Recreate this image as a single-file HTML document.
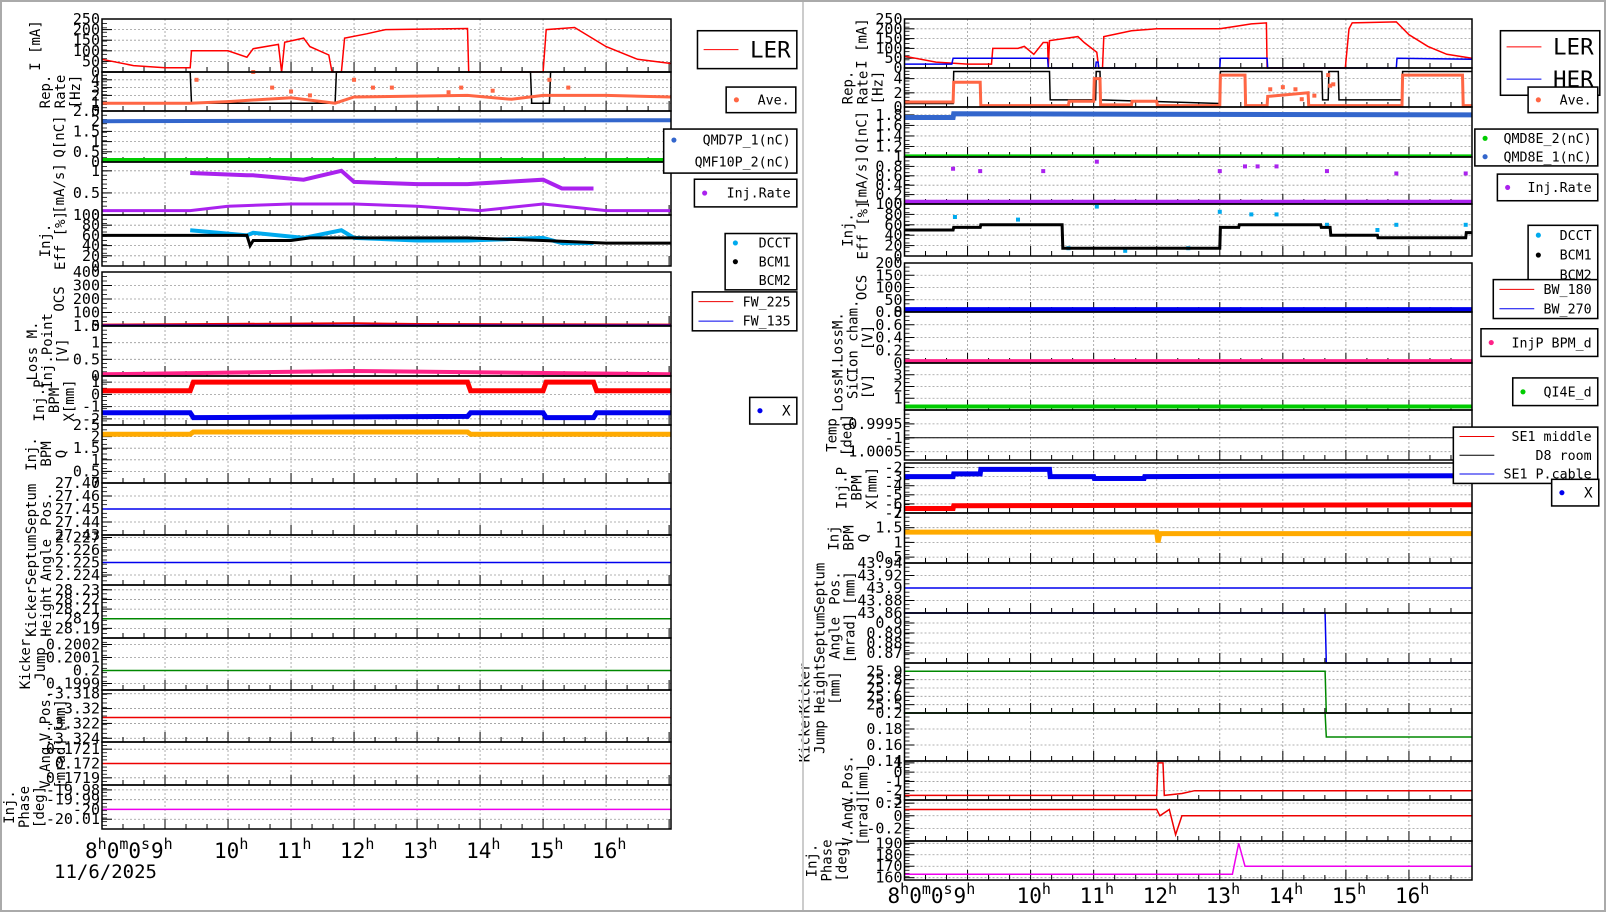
<!DOCTYPE html>
<html><head><meta charset="utf-8">
<style>
body{margin:0;background:#fff;width:1606px;height:912px;overflow:hidden;font-family:"DejaVu Sans Mono","Liberation Mono",monospace}
svg{position:absolute;left:0;top:0}
</style></head>
<body>
<svg id="c" width="1606" height="912" xmlns="http://www.w3.org/2000/svg"></svg>
<script>
// ---------- data (hours, values) ----------
const hourTicks=[8,9,10,11,12,13,14,15,16];
const dateLabel="11/6/2025";
// Left (LER)
const lerCurrent=[[8,60],[8.5,30],[9,20],[9.4,20],[9.42,100],[10,100],[10.3,70],[10.4,110],[10.8,130],[10.85,0],[10.9,140],[11.2,160],[11.3,120],[11.6,80],[11.65,0],[11.8,0],[11.85,160],[12.2,180],[12.5,200],[13.8,205],[13.82,0],[15.0,0],[15.05,200],[15.5,210],[16,120],[16.5,60],[17.03,40]];
const lerRepAve=[[8,1],[9.4,1],[10,1.2],[11,1.7],[11.7,1],[12,1.8],[13.8,2],[14.5,1.5],[15,2],[16,2],[17.03,1.8]];
const lerRepDots=[[9.5,4],[10.4,5],[10.7,3],[11,2.5],[11.3,2],[12,4],[12.3,3],[12.6,3],[13.5,2.4],[13.7,3],[14.2,2.6],[15.1,4],[15.4,3]];
const lerRepSet=[[8,5],[9.4,5],[9.42,1],[11.7,1],[11.72,5],[14.8,5],[14.82,1],[15.1,1],[15.12,5],[17.03,5]];
const lerQ=[[8,2.0],[17.03,2.05]];
const lerQ2=[[8,0.1],[17.03,0.1]];
const lerInjRate=[[9.4,0.95],[10.3,0.9],[10.4,0.9],[11.2,0.8],[11.8,1],[12,0.75],[13,0.7],[13.8,0.7],[15,0.8],[15.3,0.6],[15.8,0.6]];
const lerInjLow=[[8,0.1],[9.4,0.1],[10,0.2],[11,0.25],[12,0.25],[13,0.2],[14,0.1],[15,0.25],[16,0.1],[17.03,0.1]];
const lerEffDcct=[[9.4,70],[10.3,60],[10.4,65],[11.2,55],[11.8,70],[12,55],[13,50],[13.8,50],[15,55],[15.3,45],[15.8,45]];
const lerEffBcm=[[8,60],[10.3,60],[10.35,40],[10.4,50],[11,50],[11.3,55],[13.8,55],[15,50],[16,45],[17.03,45]];
const lerOcsR=[[8,10],[12,20],[13,15],[17.03,10]];
const lerOcsB=[[8,5],[17.03,5]];
const lerLoss=[[8,0.05],[12,0.15],[17.03,0.05]];
const lerBpmY=[[8,0.3],[9.4,0.3],[9.45,1],[13.8,1],[13.85,0.3],[15,0.3],[15.05,1],[15.8,1],[15.85,0.3],[17.03,0.3]];
const lerBpmX=[[8,-1.5],[9.4,-1.5],[9.45,-1.9],[13.8,-1.8],[13.85,-1.5],[15,-1.5],[15.05,-1.9],[15.8,-1.9],[15.85,-1.5],[17.03,-1.5]];
const lerBpmQ=[[8,2.1],[9.4,2.1],[9.45,2.2],[13.8,2.2],[13.85,2.1],[17.03,2.1]];
const lerSepPos=[[8,27.45],[17.03,27.45]];
const lerSepAng=[[8,2.225],[17.03,2.225]];
const lerKH=[[8,28.2],[17.03,28.2]];
const lerKJ=[[8,0.2],[17.03,0.2]];
const lerVPos=[[8,-3.3212],[17.03,-3.3212]];
const lerVAng=[[8,0.172],[17.03,0.172]];
const lerPhase=[[8,-20],[17.03,-20]];
// Right (HER)
const herCurrentL=[[8,60],[8.5,30],[9,20],[9.38,20],[9.4,100],[9.8,100],[9.9,110],[10.05,70],[10.2,130],[10.27,130],[10.28,0],[10.3,140],[10.75,160],[10.85,130],[11.05,80],[11.08,0],[11.14,0],[11.16,160],[11.6,190],[12,200],[13,200],[13.3,215],[13.5,225],[13.74,230],[13.75,0],[14.99,0],[15.05,200],[15.1,230],[15.8,235],[16,170],[16.3,110],[16.6,70],[17,50]];
const herCurrentH=[[8,20],[8.75,20],[8.77,50],[10.27,50],[10.28,0],[11.03,0],[11.04,30],[11.07,30],[11.08,0],[13,0],[13.01,50],[13.75,50],[13.76,0],[15.8,0],[15.81,50],[17,45]];
const herRepSet=[[8,0.5],[8.77,0.5],[8.78,5],[10.3,5],[10.31,1],[11.03,1],[11.04,5],[11.1,5],[11.11,1],[13,0.5],[13.01,5],[14.62,5],[14.63,1],[14.72,1],[14.73,5],[14.88,5],[14.89,1],[15.89,1],[15.9,5],[17,5]];
const herRepAve=[[8,0.7],[8.77,0.7],[8.78,3.5],[9.2,3.5],[9.21,0.2],[10.6,0.2],[10.61,0.8],[11.0,0.8],[11.01,4],[11.1,4],[11.11,0.3],[11.6,0.3],[11.61,0.8],[12,0.8],[12.01,0.2],[13,0.2],[13.01,4.5],[13.4,4.5],[13.41,0.2],[13.75,0.2],[13.76,1.5],[14.4,2],[14.41,0.2],[15.89,0.2],[15.9,4.5],[16.85,4.5],[16.86,0.2],[17,0.2]];
const herRepDots=[[13.8,2.5],[14,2.8],[14.2,2.5],[14.3,1.1],[14.5,1.6],[14.72,4.5],[14.75,3],[14.8,3.2]];
const herQ=[[8,1.75],[8.77,1.75],[8.78,1.82],[17,1.8]];
const herQ2=[[8,1.02],[17,1.02]];
const herInjRate=[[8,0.05],[17,0.05]];
const herInjDots=[[8.77,0.75],[9.2,0.7],[10.2,0.7],[11.05,0.9],[13,0.7],[13.4,0.8],[13.6,0.8],[13.9,0.8],[14.7,0.7],[15.8,0.65],[16.9,0.65]];
const herEffDcct=[[8.8,75],[9.8,70],[10.6,15],[11.05,95],[11.5,10],[12.5,15],[13,85],[13.5,80],[13.9,80],[14.7,60],[15.5,50],[15.8,60],[16.9,60]];
const herEffBcm=[[8,50],[8.77,50],[8.78,55],[9.2,55],[9.21,60],[10.5,60],[10.51,15],[13,15],[13.01,55],[13.3,55],[13.31,60],[14.6,60],[14.61,55],[14.75,55],[14.76,40],[15.5,40],[15.51,35],[16.9,35],[16.91,45],[17,45]];
const herOcs=[[8,10],[17,10]];
const herIon=[[8,0.03],[17,0.03]];
const herSic=[[8,0.3],[17,0.3]];
const herTemp=[[8,-1],[17,-1]];
const herBpmX=[[8,-3],[8.77,-3],[8.78,-2.7],[9.2,-2.7],[9.21,-2.2],[10.3,-2.2],[10.31,-3],[11,-3],[11.01,-3.2],[11.8,-3.2],[11.81,-3],[17,-2.9]];
const herBpmX2=[[8,-6.5],[8.77,-6.5],[8.78,-6.2],[17,-6.1]];
const herBpmQ=[[8,1.35],[12,1.35],[12.02,1.0],[12.05,1.3],[17,1.3]];
const herSepPos=[[8,43.9],[17,43.9]];
const herSepAng=[[8,0.91],[14.67,0.91],[14.69,0.86],[17,0.86]];
const herKH=[[8,25.9],[14.67,25.9],[14.69,25.4],[17,25.4]];
const herKJ=[[8,0.2],[14.67,0.2],[14.69,0.17],[17,0.17]];
const herVPos=[[8,-2.5],[12,-2.5],[12.02,1],[12.1,1],[12.12,-2.5],[12.4,-2.3],[12.6,-2],[17,-2]];
const herVAng=[[8,0.1],[12,0.1],[12.05,0],[12.2,0.1],[12.3,-0.3],[12.4,0],[17,0]];
const herPhase=[[8,163],[13.2,163],[13.3,190],[13.4,170],[17,170]];

// ---------- drawing ----------
const svg=document.getElementById('c');
const NS="http://www.w3.org/2000/svg";
function el(t,a,p){const e=document.createElementNS(NS,t);for(const k in a)e.setAttribute(k,a[k]);(p||svg).appendChild(e);return e;}
function txt(x,y,s,sz,anchor,p){const t=el('text',{x:x,y:y,'font-size':sz,'text-anchor':anchor||'end','font-family':'DejaVu Sans Mono,Liberation Mono,monospace'},p);t.textContent=s;return t;}
function hourLabel(x,y,h,g){
  const t=el('text',{x:x,y:y,'font-size':21,'text-anchor':'start','font-family':'DejaVu Sans Mono,Liberation Mono,monospace'},g);
  const parts=h==8?[['8',0],['h',1],['0',0],['m',1],['0',0],['s',1]]:[[String(h),0],['h',1]];
  parts.forEach(p=>{const s=el('tspan',{},t);s.textContent=p[0];if(p[1]){s.setAttribute('font-size',15);s.setAttribute('dy',-9);}else if(s.previousSibling){s.setAttribute('dy',9);}});
  return t;
}
function plot(name,x0,x1,panels,h1,labY){
  const g=el('g',{});
  
  
  const X=h=>x0+(h-8)*(x1-x0)/(h1-8);
  panels.forEach(p=>{
    const pg=el('g',{},g);
    
    
    const Y=v=>p.b-(v-p.lo)*(p.b-p.t)/(p.hi-p.lo);
    hourTicks.forEach(h=>{const x=X(h);if(x>x0+2&&x<x1)el('line',{x1:x,x2:x,y1:p.t,y2:p.b,stroke:'#999','stroke-dasharray':'2,2','stroke-width':0.8},pg);});
    p.ticks.forEach(v=>{const y=Y(v);el('line',{x1:x0,x2:x1,y1:y,y2:y,stroke:'#999','stroke-dasharray':'2,2','stroke-width':0.8},pg);txt(x0-2,y+5,String(v),15,'end',pg);
      el('line',{x1:x0,x2:x0+10,y1:y,y2:y,stroke:'#000'},pg);});
    for(let i=0;i<12;i++){const y=p.t+(p.b-p.t)*i/12;el('line',{x1:x0,x2:x0+5,y1:y,y2:y,stroke:'#000','stroke-width':0.8},pg);}
    for(let h=8;h<=h1;h+=1/3){const x=X(h);const maj=Math.abs(h-Math.round(h))<0.01;el('line',{x1:x,x2:x,y1:p.b,y2:p.b-(maj?10:5),stroke:'#000'},pg);}
    p.series.forEach(s=>{
      if(s.dots){s.d.forEach(q=>{el('rect',{x:X(q[0])-2,y:Y(q[1])-2,width:4,height:4,fill:s.c},pg);});}
      else{const pts=s.d.map(q=>X(q[0]).toFixed(1)+','+Y(q[1]).toFixed(1)).join(' ');
        const l=el('polyline',{points:pts,fill:'none',stroke:s.c,'stroke-width':s.w||1.5},pg);
        }
    });
    el('rect',{x:x0,y:p.t,width:x1-x0,height:p.b-p.t,fill:'none',stroke:'#000','stroke-width':1.5},pg);
    const cx=x0-(p.lx||62);const cy=(p.t+p.b)/2;
    p.label.forEach((s,i)=>{const t=txt(0,0,s,14,'middle',pg);t.setAttribute('transform',`translate(${cx+i*15},${cy}) rotate(-90)`);});
  });
  hourTicks.forEach(h=>{const x=X(h);hourLabel(h==8?x-17:x-14,labY,h,g);});
}
const L=[
 {name:'current-panel',t:19,b:72,lo:0,hi:250,ticks:[0,50,100,150,200,250],label:['I [mA]'],series:[{n:'ler-current',c:'#f00',d:lerCurrent}]},
 {name:'rep-rate-panel',t:72,b:111,lo:0,hi:5,ticks:[0,1,2,3,4],label:['Rep.','Rate','[Hz]'],lx:52,series:[{n:'rep-set',c:'#000',d:lerRepSet},{n:'rep-ave',c:'#f64',d:lerRepAve,w:3},{n:'rep-dots',c:'#f64',d:lerRepDots,dots:1}]},
 {name:'charge-panel',t:111,b:162,lo:0,hi:2.5,ticks:[0,0.5,1,1.5,2,2.5],label:['Q[nC]'],lx:38,series:[{n:'q1',c:'#36c',d:lerQ,w:4},{n:'q2',c:'#0c0',d:lerQ2,w:4}]},
 {name:'inj-rate-panel',t:162,b:215,lo:0,hi:1.2,ticks:[0,0.5,1],label:['[mA/s]'],lx:38,series:[{n:'inj-rate',c:'#a2e',d:lerInjRate,w:4},{n:'inj-rate-low',c:'#a2e',d:lerInjLow,w:3}]},
 {name:'eff-panel',t:215,b:266,lo:0,hi:100,ticks:[0,20,40,60,80,100],label:['Inj.','Eff [%]'],lx:52,series:[{n:'dcct',c:'#0ae',d:lerEffDcct,w:4},{n:'bcm1',c:'#000',d:lerEffBcm,w:3}]},
 {name:'ocs-panel',t:272,b:326,lo:0,hi:400,ticks:[0,100,200,300,400],label:['OCS'],lx:38,series:[{n:'fw225',c:'#e00',d:lerOcsR,w:2},{n:'fw135',c:'#00e',d:lerOcsB}]},
 {name:'loss-panel',t:326,b:376,lo:0,hi:1.5,ticks:[0,0.5,1,1.5],label:['Loss M.','Inj.Point','[V]'],lx:65,series:[{n:'loss',c:'#f28',d:lerLoss,w:4}]},
 {name:'bpm-panel',t:376,b:425,lo:-2.5,hi:1.5,ticks:[-2,-1,0,1],label:['Inj.P','BPM','X[mm]'],lx:58,series:[{n:'bpm-y',c:'#f00',d:lerBpmY,w:5},{n:'bpm-x',c:'#00e',d:lerBpmX,w:5}]},
 {name:'bpm-q-panel',t:425,b:483,lo:0,hi:2.5,ticks:[0,0.5,1,1.5,2,2.5],label:['Inj.','BPM','Q'],lx:66,series:[{n:'bpm-q',c:'#fa0',d:lerBpmQ,w:5}]},
 {name:'septum-pos-panel',t:483,b:535,lo:27.43,hi:27.47,ticks:[27.43,27.44,27.45,27.46,27.47],label:['Septum','Pos.'],lx:66,series:[{n:'sep-pos',c:'#00e',d:lerSepPos,w:1.5}]},
 {name:'septum-angle-panel',t:535,b:585,lo:2.2232,hi:2.2272,ticks:[2.224,2.225,2.226,2.227],label:['Septum','Angle'],lx:66,series:[{n:'sep-ang',c:'#00e',d:lerSepAng,w:1.5}]},
 {name:'kicker-height-panel',t:585,b:638,lo:28.18,hi:28.235,ticks:[28.19,28.2,28.21,28.22,28.23],label:['Kicker','Height'],lx:66,series:[{n:'kh',c:'#080',d:lerKH,w:1.5}]},
 {name:'kicker-jump-panel',t:638,b:690,lo:0.19985,hi:0.20025,ticks:[0.1999,0.2,0.2001,0.2002],label:['Kicker','Jump'],lx:72,series:[{n:'kj',c:'#080',d:lerKJ,w:1.5}]},
 {name:'vpos-panel',t:690,b:742,lo:-3.3245,hi:-3.3175,ticks:[-3.324,-3.322,-3.32,-3.318],label:['V.Pos.','[mm]'],lx:52,series:[{n:'vpos',c:'#e00',d:lerVPos}]},
 {name:'vang-panel',t:742,b:785,lo:0.17185,hi:0.17215,ticks:[0.1719,0.172,0.1721],label:['V.Ang.','[mrad]'],lx:52,series:[{n:'vang',c:'#e00',d:lerVAng}]},
 {name:'phase-panel',t:785,b:829,lo:-20.02,hi:-19.975,ticks:[-20.01,-20,-19.99,-19.98],label:['Inj.','Phase','[deg]'],lx:88,series:[{n:'phase',c:'#e0e',d:lerPhase}]},
];
plot('ler-plot',102,671,L,17.03,858);
const R=[
 {name:'current-panel',t:19,b:68,lo:0,hi:250,ticks:[0,50,100,150,200,250],label:['I [mA]'],lx:38,series:[{n:'ler-current',c:'#f00',d:herCurrentL},{n:'her-current',c:'#00e',d:herCurrentH}]},
 {name:'rep-rate-panel',t:68,b:107,lo:0,hi:5.5,ticks:[0,2,4],label:['Rep.','Rate','[Hz]'],lx:52,series:[{n:'rep-set',c:'#000',d:herRepSet},{n:'rep-ave',c:'#f64',d:herRepAve,w:3},{n:'rep-dots',c:'#f64',d:herRepDots,dots:1}]},
 {name:'charge-panel',t:107,b:157,lo:1,hi:1.95,ticks:[1,1.2,1.4,1.6,1.8],label:['Q[nC]'],lx:38,series:[{n:'q1',c:'#36c',d:herQ,w:5},{n:'q2',c:'#0c0',d:herQ2,w:3}]},
 {name:'inj-rate-panel',t:157,b:204,lo:0,hi:1,ticks:[0,0.2,0.4,0.6,0.8],label:['[mA/s]'],lx:38,series:[{n:'inj-rate',c:'#a2e',d:herInjRate,w:4},{n:'inj-dots',c:'#a2e',d:herInjDots,dots:1}]},
 {name:'eff-panel',t:204,b:256,lo:0,hi:100,ticks:[0,20,40,60,80,100],label:['Inj.','Eff [%]'],lx:52,series:[{n:'dcct',c:'#0ae',d:herEffDcct,dots:1},{n:'bcm1',c:'#000',d:herEffBcm,w:3}]},
 {name:'ocs-panel',t:263,b:312,lo:0,hi:200,ticks:[0,50,100,150,200],label:['OCS'],lx:38,series:[{n:'bw270',c:'#00e',d:herOcs,w:5}]},
 {name:'ion-panel',t:312,b:363,lo:0,hi:0.8,ticks:[0,0.2,0.4,0.6,0.8],label:['LossM.','Ion cham.','[V]'],lx:62,series:[{n:'ion',c:'#f28',d:herIon,w:4}]},
 {name:'sic-panel',t:363,b:410,lo:0,hi:4,ticks:[1,2,3],label:['LossM.','SiC','[V]'],lx:62,series:[{n:'sic',c:'#0c0',d:herSic,w:4}]},
 {name:'temp-panel',t:410,b:460,lo:-1.0008,hi:-0.999,ticks:[-1.0005,-1,-0.9995],label:['Temp','[deg]'],lx:68,series:[{n:'temp',c:'#000',d:herTemp,w:1}]},
 {name:'bpm-panel',t:463,b:513,lo:-7,hi:-1.5,ticks:[-7,-6,-5,-4,-3,-2],label:['Inj.P','BPM','X[mm]'],lx:58,series:[{n:'bpm-x',c:'#00e',d:herBpmX,w:5},{n:'bpm-x2',c:'#f00',d:herBpmX2,w:5}]},
 {name:'bpm-q-panel',t:513,b:563,lo:0.3,hi:2,ticks:[0.5,1,1.5,2],label:['Inj','BPM','Q'],lx:66,series:[{n:'bpm-q',c:'#fa0',d:herBpmQ,w:5}]},
 {name:'septum-pos-panel',t:563,b:613,lo:43.86,hi:43.94,ticks:[43.86,43.88,43.9,43.92,43.94],label:['Septum','Pos.','[mm]'],lx:80,series:[{n:'sep-pos',c:'#00e',d:herSepPos,w:1.5}]},
 {name:'septum-angle-panel',t:613,b:663,lo:0.86,hi:0.91,ticks:[0.87,0.88,0.89,0.9],label:['Septum','Angle','[mrad]'],lx:80,series:[{n:'sep-ang',c:'#00e',d:herSepAng,w:1.5}]},
 {name:'kicker-height-panel',t:663,b:713,lo:25.4,hi:26,ticks:[25.5,25.6,25.7,25.8,25.9],label:['Kicker','Height','[mm]'],lx:95,series:[{n:'kh',c:'#080',d:herKH,w:1.5}]},
 {name:'kicker-jump-panel',t:713,b:761,lo:0.14,hi:0.2,ticks:[0.14,0.16,0.18,0.2],label:['Kicker','Jump'],lx:95,series:[{n:'kj',c:'#080',d:herKJ,w:1.5}]},
 {name:'vpos-panel',t:761,b:800,lo:-3,hi:1.2,ticks:[-3,-2,-1,0,1],label:['V.Pos.','[mm]'],lx:52,series:[{n:'vpos',c:'#e00',d:herVPos}]},
 {name:'vang-panel',t:800,b:841,lo:-0.4,hi:0.25,ticks:[-0.2,0,0.2],label:['V.Ang.','[mrad]'],lx:52,series:[{n:'vang',c:'#e00',d:herVAng}]},
 {name:'phase-panel',t:841,b:880,lo:158,hi:192,ticks:[160,170,180,190],label:['Inj.','Phase','[deg]'],lx:88,series:[{n:'phase',c:'#e0e',d:herPhase}]},
];
plot('her-plot',904.5,1472,R,17,903);
txt(54,878,dateLabel,19,'start');

// legends (drawn in reduced coords, scaled)
const lg=el('g',{transform:'scale(1.0242)'});


function legend(name,x,y,w,h,items,sz){const g=el('g',{},lg);
 el('rect',{x:x,y:y,width:w,height:h,fill:'#fff',stroke:'#000','stroke-width':1.5},g);
 items.forEach((it,i)=>{const yy=y+(i+0.5)*h/items.length;
  if(it.dot)el('circle',{cx:x+10,cy:yy,r:2.5,fill:it.c},g);else if(it.c)el('line',{x1:x+6,x2:x+40,y1:yy,y2:yy,stroke:it.c},g);
  txt(x+w-6,yy+sz*0.35,it.t,sz,'end',g);});}
legend('legend-ler',681,30,97,37,[{t:'LER',c:'#f00'}],22);
legend('legend-ave-l',709,85,68,25,[{t:'Ave.',c:'#f64',dot:1}],13);
legend('legend-q-l',648,126,130,43,[{t:'QMD7P_1(nC)',c:'#36c',dot:1},{t:'QMF10P_2(nC)'}],13);
legend('legend-injrate-l',678,175,100,27,[{t:'Inj.Rate',c:'#a2e',dot:1}],13);
legend('legend-eff-l',708,228,70,55,[{t:'DCCT',c:'#0ae',dot:1},{t:'BCM1',c:'#000',dot:1},{t:'BCM2'}],13);
legend('legend-ocs-l',676,285,102,38,[{t:'FW_225',c:'#e00'},{t:'FW_135',c:'#00e'}],13);
legend('legend-x-l',732,388,46,26,[{t:'X',c:'#00e',dot:1}],14);
legend('legend-her',1465,30,97,63,[{t:'LER',c:'#f00'},{t:'HER',c:'#00e'}],22);
legend('legend-ave-r',1492,85,68,25,[{t:'Ave.',c:'#f64',dot:1}],13);
legend('legend-q-r',1440,126,120,36,[{t:'QMD8E_2(nC)',c:'#0c0',dot:1},{t:'QMD8E_1(nC)',c:'#36c',dot:1}],13);
legend('legend-injrate-r',1462,170,98,26,[{t:'Inj.Rate',c:'#a2e',dot:1}],13);
legend('legend-eff-r',1492,220,68,58,[{t:'DCCT',c:'#0ae',dot:1},{t:'BCM1',c:'#000',dot:1},{t:'BCM2'}],13);
legend('legend-bw',1458,273,102,38,[{t:'BW_180',c:'#e00'},{t:'BW_270',c:'#00e'}],13);
legend('legend-loss-r',1446,321,114,27,[{t:'InjP BPM_d',c:'#f28',dot:1}],13);
legend('legend-sic',1477,369,83,27,[{t:'QI4E_d',c:'#0c0',dot:1}],13);
legend('legend-temp',1419,417,141,55,[{t:'SE1 middle',c:'#e00'},{t:'D8 room',c:'#000'},{t:'SE1 P.cable',c:'#00e'}],13);
legend('legend-x-r',1515,468,46,26,[{t:'X',c:'#00e',dot:1}],14);
el('line',{x1:803,x2:803,y1:0,y2:912,stroke:'#ccc','stroke-width':2});
el('rect',{x:1,y:1,width:1604,height:910,fill:'none',stroke:'#aaa','stroke-width':2});
</script>
</body></html>
